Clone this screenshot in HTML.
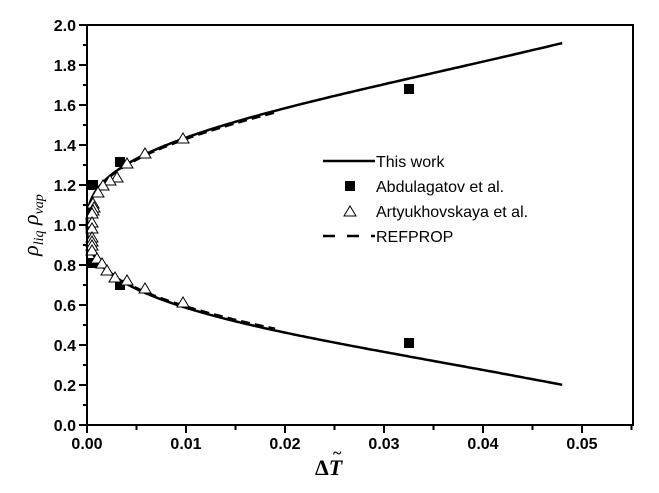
<!DOCTYPE html>
<html><head><meta charset="utf-8"><style>
html,body{margin:0;padding:0;background:#fff;}
svg{display:block;}
.t{font-family:"Liberation Sans",Arial,sans-serif;font-weight:bold;font-size:16px;fill:#000;}
.l{font-family:"Liberation Sans",Arial,sans-serif;font-size:16px;fill:#000;}
</style></head><body>
<svg id="s" width="659" height="493" xmlns="http://www.w3.org/2000/svg">
<rect width="659" height="493" fill="#fff"/>
<g id="g"></g>
<rect x="87" y="25" width="546" height="400" fill="none" stroke="#000" stroke-width="2"/>
<text x="315" y="475" font-family="Liberation Serif,serif" font-size="22" font-weight="bold">Δ<tspan font-style="italic">T</tspan></text>
<text x="333" y="458" font-family="Liberation Serif,serif" font-size="16" font-weight="bold">~</text>
<g transform="translate(38,225) rotate(-90)">
<text text-anchor="middle" font-family="Liberation Serif,serif" font-style="italic" font-size="22">ρ<tspan font-size="14" dy="5">liq</tspan><tspan dy="-5"> ρ</tspan><tspan font-size="14" dy="5">vap</tspan></text>
</g>
<line x1="323" y1="161" x2="375" y2="161" stroke="#000" stroke-width="2.5"/>
<text class="l" x="376" y="167">This work</text>
<rect x="345" y="181" width="10" height="10" fill="#000"/>
<text class="l" x="376" y="192">Abdulagatov et al.</text>
<polygon points="344,216 356,216 350,206" fill="#fff" stroke="#000"/>
<text class="l" x="376" y="217">Artyukhovskaya et al.</text>
<line x1="323" y1="236" x2="375" y2="236" stroke="#000" stroke-width="2.5" stroke-dasharray="12,12"/>
<text class="l" x="376" y="242">REFPROP</text>
</svg>
<script>
var g=document.getElementById('g'),h='';
function X(v){return 87+v*9900;}function Y(v){return 425-v*200;}
for(var i=0;i<=11;i++){var x=87+i*49.5;var maj=i%2==0;h+='<line x1="'+x+'" y1="425" x2="'+x+'" y2="'+(425+(maj?8:5))+'" stroke="#000" stroke-width="2"/>';
if(maj&&i<=10)h+='<text class="t" x="'+x+'" y="449" text-anchor="middle">'+(i/200).toFixed(2)+'</text>';}
for(var i=0;i<=20;i++){var y=425-i*20;var maj=i%2==0;h+='<line x1="87" y1="'+y+'" x2="'+(87-(maj?8:4))+'" y2="'+y+'" stroke="#000" stroke-width="2"/>';
if(maj)h+='<text class="t" x="76" y="'+(y+6)+'" text-anchor="end">'+(i/10).toFixed(1)+'</text>';}
function curve(s,xm,f,dash){var p='';for(var k=0;k<=200;k++){var t=xm*Math.pow(k/200,2);var r=1+1.15*t+s*f*(2.436*Math.pow(t,0.38)+15.9*t*t+447*t*t*t);p+=(k?'L':'M')+X(t).toFixed(1)+','+Y(r).toFixed(1);}
return '<path d="'+p+'" fill="none" stroke="#000" stroke-width="2.5"'+(dash?' stroke-dasharray="9,5"':'')+'/>';}
h+=curve(1,0.048,1,0)+curve(-1,0.048,1,0)+curve(1,0.019,0.985,1)+curve(-1,0.019,0.985,1);
var sq=[[93,185],[120,162],[409,89],[93,263],[120,285],[409,343]];
sq.forEach(function(p){h+='<rect x="'+(p[0]-5)+'" y="'+(p[1]-5)+'" width="10" height="10" fill="#000"/>';});
var tr=[[183,138],[145,153],[127,163],[117,177],[110,180],[103,185],[98,192],[93,203],[94,207],[93,210],[92,213],[92,222],[92,228],[92,237],[92,241],[92,245],[92,250],[97,258],[102,263],[107,270],[115,277],[127,280],[145,288],[183,302]];
tr.forEach(function(p){h+='<polygon points="'+(p[0]-6)+','+(p[1]+5)+' '+(p[0]+6)+','+(p[1]+5)+' '+p[0]+','+(p[1]-5)+'" fill="#fff" stroke="#000"/>';});
g.innerHTML=h;
</script>
</body></html>
